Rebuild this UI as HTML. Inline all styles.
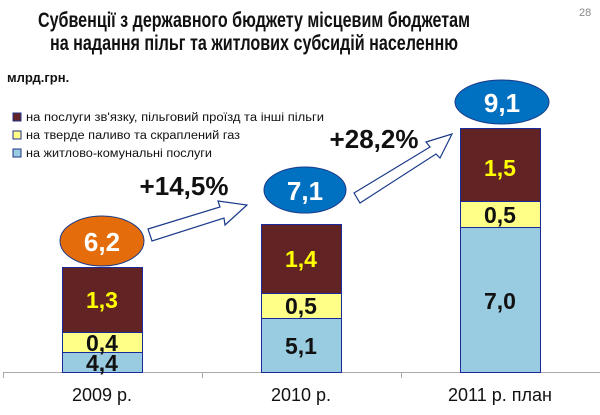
<!DOCTYPE html>
<html><head><meta charset="utf-8"><style>
html,body{margin:0;padding:0;background:#fff;}
svg{display:block;font-family:"Liberation Sans","DejaVu Sans",sans-serif;}
</style></head><body>
<svg width="600" height="415" viewBox="0 0 600 415" xmlns="http://www.w3.org/2000/svg">
<text x="38" y="27" font-size="21" font-weight="bold" fill="#111" textLength="432" lengthAdjust="spacingAndGlyphs">Субвенції з державного бюджету місцевим бюджетам</text>
<text x="50" y="50" font-size="21" font-weight="bold" fill="#111" textLength="408" lengthAdjust="spacingAndGlyphs">на надання пільг та житлових субсидій населенню</text>
<text x="579" y="16" font-size="11" fill="#888">28</text>
<text x="7" y="82" font-size="13" font-weight="bold" fill="#111">млрд.грн.</text>
<rect x="13" y="113" width="8" height="8" fill="#612323" stroke="#223388" stroke-width="1"/>
<text x="26" y="121" font-size="11.5" fill="#111" textLength="298" lengthAdjust="spacingAndGlyphs">на послуги зв'язку,  пільговий проїзд  та інші пільги</text>
<rect x="13" y="131" width="8" height="8" fill="#ffff88" stroke="#223388" stroke-width="1"/>
<text x="26" y="139" font-size="11.5" fill="#111" textLength="214" lengthAdjust="spacingAndGlyphs">на тверде паливо та скраплений газ</text>
<rect x="13" y="149" width="8" height="8" fill="#99cce0" stroke="#223388" stroke-width="1"/>
<text x="26" y="157" font-size="11.5" fill="#111" textLength="186" lengthAdjust="spacingAndGlyphs">на житлово-комунальні послуги</text>
<line x1="3" y1="372.5" x2="600" y2="372.5" stroke="#aaa" stroke-width="1"/>
<line x1="3.5" y1="372" x2="3.5" y2="378" stroke="#aaa"/>
<line x1="202.5" y1="372" x2="202.5" y2="378" stroke="#aaa"/>
<line x1="401.5" y1="372" x2="401.5" y2="378" stroke="#aaa"/>
<g stroke="#1a2a9a" stroke-width="1">
<rect x="62.5" y="267.5" width="80" height="65" fill="#612323"/>
<rect x="62.5" y="332.5" width="80" height="20" fill="#ffff88"/>
<rect x="62.5" y="352.5" width="80" height="20" fill="#99cce0"/>
<rect x="261.5" y="224.5" width="80" height="69" fill="#612323"/>
<rect x="261.5" y="293.5" width="80" height="25" fill="#ffff88"/>
<rect x="261.5" y="318.5" width="80" height="54" fill="#99cce0"/>
<rect x="460.5" y="128.5" width="80" height="73" fill="#612323"/>
<rect x="460.5" y="201.5" width="80" height="26" fill="#ffff88"/>
<rect x="460.5" y="227.5" width="80" height="145" fill="#99cce0"/>
</g>
<g font-size="23" font-weight="bold" text-anchor="middle">
<text x="102" y="308" fill="#ffff00">1,3</text>
<text x="102" y="351" fill="#111">0,4</text>
<text x="102" y="371" fill="#111">4,4</text>
<text x="301" y="267" fill="#ffff00">1,4</text>
<text x="301" y="314" fill="#111">0,5</text>
<text x="301" y="354" fill="#111">5,1</text>
<text x="500" y="176" fill="#ffff00">1,5</text>
<text x="500" y="223" fill="#111">0,5</text>
<text x="500" y="309" fill="#111">7,0</text>
</g>
<ellipse cx="102" cy="241" rx="42" ry="25" fill="#e46c0a" stroke="#1a3a8a" stroke-width="1"/>
<ellipse cx="305" cy="190" rx="41" ry="23" fill="#0070c0" stroke="#1a3a8a" stroke-width="1"/>
<ellipse cx="502" cy="102" rx="47" ry="22" fill="#0070c0" stroke="#1a3a8a" stroke-width="1"/>
<g font-size="26" font-weight="bold" text-anchor="middle" fill="#fff">
<text x="102" y="251">6,2</text>
<text x="305" y="200">7,1</text>
<text x="502" y="112">9,1</text>
</g>
<polygon points="148,229 220,207 218,201 247,205 225,225 224,218 152,241" fill="#fff" stroke="#1a3a8a" stroke-width="1.2"/>
<polygon points="354,193 430,147 426,142 452,134 440,158 436,154 360,203" fill="#fff" stroke="#1a3a8a" stroke-width="1.2"/>
<g font-size="26" font-weight="bold" fill="#111" text-anchor="middle">
<text x="184" y="195">+14,5%</text>
<text x="374" y="148">+28,2%</text>
</g>
<g font-size="18" fill="#111" text-anchor="middle">
<text x="102" y="401">2009 р.</text>
<text x="301" y="401">2010 р.</text>
<text x="500" y="401">2011 р. план</text>
</g>
</svg>
</body></html>
